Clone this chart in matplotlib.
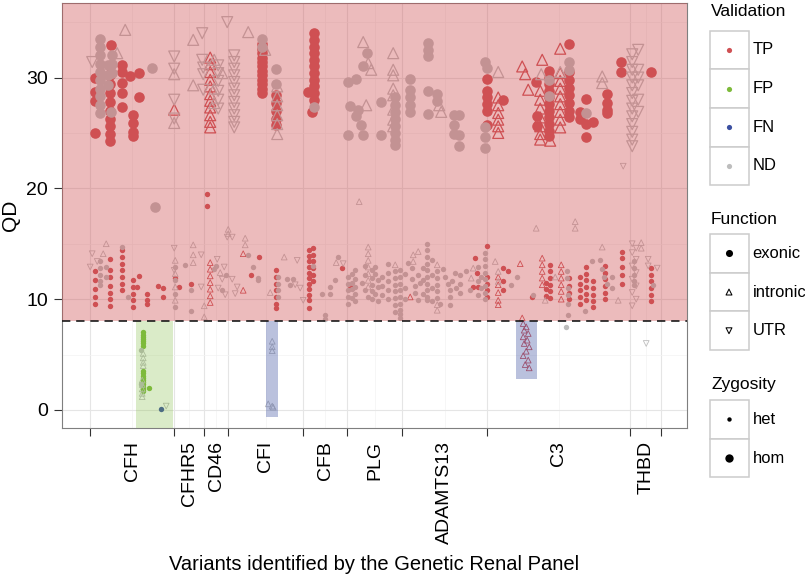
import numpy as np
import matplotlib
matplotlib.use("Agg")
import matplotlib.pyplot as plt
from matplotlib.patches import Rectangle

plt.rcParams["font.family"] = ["Liberation Sans", "DejaVu Sans"]

# genes along the panel (variant index of the block boundaries)
gene_names = ["CFH", "CFHR5", "CD46", "CFI", "CFB", "PLG", "ADAMTS13", "C3", "THBD"]
gene_bounds = [0, 84, 114, 138, 213, 257, 312, 397, 540, 571]
qd_threshold = 8

# FP / FN call regions : (validation, x from, x to, lowest QD)
call_regions = [("FP", 46, 82.3, -5), ("FN", 175.7, 187.3, -0.6), ("FN", 425.7, 446.7, 2.8)]

# variants, grouped as (variant index, [QD values])
tp_exonic_hom = [
    (5, [30.0, 28.7, 27.9, 25.0]), (21, [32.9]),
    (20, [31.0, 30.2, 29.4, 28.6, 27.8, 27.0, 26.3, 25.6, 24.9, 24.3]),
    (32, [31.1, 30.5, 29.5, 28.6, 27.3]), (40, [30.1]), (49, [30.4, 28.2]),
    (43, [26.6, 25.9, 25.1, 24.7]),
    (172, [33.0, 32.6, 32.2, 31.8, 31.4, 31.0, 30.6, 30.2, 29.8, 29.4, 29.0, 28.6]),
    (186, [28.4, 27.7, 27.0, 26.3, 25.7]),
    (224, [34.0, 33.4, 32.8, 32.2, 31.6, 31.0, 30.4, 29.8, 29.2, 28.6, 28.0]),
    (218, [28.7]), (222, [26.9]),
    (397, [29.9, 28.8, 28.2, 27.6, 27.0, 25.7]), (413, [28.0]), (446, [29.6]),
    (459, [30.6, 30.0, 29.4, 28.8, 28.2, 27.6, 27.0, 26.4, 25.8, 25.2, 24.7]),
    (447, [26.5, 25.6]),
    (479, [33.0, 30.5, 29.8, 29.1, 28.4, 27.7, 27.0, 26.4]),
    (490, [26.9, 26.3]), (496, [28.1, 25.8, 24.6]), (503, [26.0]),
    (517, [28.5, 27.7, 27.1, 26.8]), (531, [31.4, 30.5]), (561, [30.5]),
]
tp_exonic_het = [
    (5, [12.5, 11.7, 10.9, 10.2, 9.6]),
    (20, [13.6, 12.6, 12.0, 11.2, 10.6, 10.0, 9.4]),
    (32, [14.4, 13.8, 13.2, 12.6, 12.0, 11.4, 10.8]),
    (43, [11.7, 11.1, 10.5, 9.9, 9.3]), (49, [12.1]), (47, [11.1]),
    (57, [10.5, 9.9, 9.6]), (68, [11.2]), (73, [11.0, 10.2]),
    (85, [11.9]), (89, [11.1]), (101, [11.4]), (117, [19.5, 18.4]),
    (169, [13.8]), (161, [12.2]),
    (186, [12.6, 12.0, 11.4, 10.8, 10.2, 9.6, 9.2]),
    (219, [14.4, 13.9, 13.4, 12.9, 12.4, 11.9, 11.4, 10.9, 10.4, 9.9, 9.2]),
    (223, [14.6, 14.0, 13.4, 12.8, 12.2, 11.6]), (252, [12.8]), (260, [11.2]),
    (385, [13.7]), (387, [12.4]), (383, [11.1]), (388, [11.1]),
    (397, [14.8, 12.0, 11.4, 10.8, 10.2]),
    (413, [12.8, 11.6, 10.8]), (418, [12.5]), (442, [10.2]),
    (456, [11.5, 10.9, 10.3]), (460, [13.1, 12.5, 11.9, 11.3, 10.7, 10.1]),
    (479, [11.9, 11.2, 10.6, 10.0]), (490, [12.0, 11.4, 10.8, 10.2, 9.6]),
    (496, [12.9, 12.3, 11.7, 11.1, 10.5, 9.9]), (503, [11.6, 11.0, 10.4, 9.8, 9.3]),
    (515, [13.0, 12.4, 11.8, 11.2, 10.6, 10.0]), (532, [14.3, 13.7, 12.9, 12.2, 11.4]),
    (561, [12.8, 12.2, 11.6, 11.0, 10.4, 9.8]),
]
tp_intronic_hom = [
    (84, [27.1]),
    (120, [31.8, 31.2, 30.5, 29.8, 29.2, 28.5, 27.9, 27.3, 26.6, 26.0, 25.5]),
    (408, [28.2, 27.5, 26.8, 26.2, 25.6, 25.0]),
    (432, [31.0]), (435, [30.3]), (438, [28.9]), (452, [31.6]),
    (450, [28.8, 28.0, 27.2, 26.4, 25.6, 24.9, 24.4]), (460, [24.3]),
    (470, [32.6, 30.4, 29.7, 29.0, 28.3, 27.6, 26.9, 26.2, 25.5]),
]
tp_intronic_het = [
    (120, [13.3, 12.7, 12.1, 11.5, 10.9, 10.3, 9.7]), (153, [14.1, 10.8]), (320, [10.2]),
    (408, [12.0, 11.3, 10.6, 9.9, 9.5]), (430, [13.2]),
    (452, [13.7, 13.1, 12.5, 11.9, 11.3]), (471, [13.1, 12.5, 11.9, 11.3, 10.7, 10.0]),
    (432, [8.3]), (433, [7.8, 6.6, 4.9]), (436, [7.5, 5.3]), (434, [7.2, 6.0]),
    (438, [6.9, 4.5]), (437, [6.3]), (439, [5.7, 3.8]), (435, [4.1]),
]
fp_exonic_het = [
    (53, [7.0, 6.8, 6.6, 6.4, 6.2, 6.0, 5.8, 3.5, 3.3, 3.1, 2.9, 2.7, 2.5, 2.3, 2.1, 1.9, 1.7]),
    (59, [2.0]),
]
fn_exonic_het = [(71, [0.1])]
nd_exonic_hom = [
    (10, [33.5, 32.8, 32.0, 31.2, 30.5, 29.8, 29.0, 28.3, 27.5, 26.8]),
    (18, [31.1, 30.2, 29.3]), (22, [32.0, 31.2, 30.4]), (21, [26.9]),
    (62, [30.9]), (65, [18.3]),
    (172, [33.5, 32.8]), (186, [30.8, 29.4]), (224, [27.3]),
    (258, [29.6, 24.8]), (260, [27.4]), (266, [29.9, 26.5]), (268, [27.1]), (271, [25.7]),
    (273, [31.0, 24.8]), (277, [32.2]), (291, [27.8, 24.8]),
    (305, [28.2, 27.5, 26.9, 26.3, 25.6, 25.0, 24.4, 23.9]),
    (320, [29.9, 28.9, 28.2, 27.5, 26.9]), (338, [33.1, 32.5, 31.9, 28.8, 26.7]),
    (347, [28.5, 27.9]), (364, [26.6, 25.7, 24.9]), (369, [26.6, 24.8, 23.8]),
    (395, [31.4, 25.5, 24.6, 23.6]), (397, [30.9]),
    (459, [29.8, 28.3]), (479, [31.4, 30.7]), (496, [26.8]),
]
nd_exonic_het = [
    (10, [13.4, 12.8, 12.2, 11.6, 11.3]), (16, [12.9, 12.0]), (32, [14.7]), (38, [10.2]),
    (85, [12.9, 11.7, 10.5, 9.3]), (95, [13.1]), (101, [10.8, 8.9]),
    (124, [12.7]), (126, [13.0]), (136, [12.2]), (132, [10.8]),
    (158, [14.0]), (163, [12.9]), (168, [11.9, 11.7]),
    (188, [12.0, 11.4, 10.8, 10.2]), (197, [11.8]), (200, [11.3]), (203, [11.8]),
    (223, [13.0]), (232, [10.5]), (240, [11.1, 10.5]), (245, [11.7]), (248, [13.8]), (235, [8.6, 8.2]),
    (258, [12.0, 11.4, 10.8, 10.2, 9.6]), (262, [12.3, 11.5, 10.9, 10.1]),
    (265, [12.6, 11.8, 11.1, 10.5, 9.8]), (272, [11.5]), (275, [13.0, 12.2, 10.8]), (278, [10.2]),
    (282, [12.6, 11.9, 11.3, 10.7, 10.0]), (285, [12.9, 12.3, 10.5]), (288, [11.7, 11.1, 9.8]),
    (292, [12.0, 11.2, 10.4]), (298, [13.2, 12.4, 11.6, 10.8, 10.0]),
    (305, [12.5, 11.9, 11.3, 10.7, 10.1, 9.5, 8.8]),
    (310, [12.6, 12.0, 11.4, 10.8, 10.2, 9.6, 9.0, 8.7, 8.3]),
    (315, [12.3, 11.0, 10.0]), (318, [13.3]), (322, [12.8, 11.8]), (325, [11.2, 10.6]),
    (328, [12.2, 9.9]), (330, [11.5]), (333, [12.8, 11.7, 10.5]),
    (337, [15.0, 14.4, 13.8, 13.2, 12.6, 12.0, 11.4, 10.8, 10.2, 9.9]),
    (342, [13.5, 12.2, 11.0, 9.8]), (347, [12.5, 11.9, 11.3, 10.7, 10.1]),
    (350, [9.6]), (353, [12.7]), (355, [12.0]), (358, [11.4]), (360, [10.8, 10.2, 9.5]),
    (362, [11.6]), (365, [12.4]), (366, [11.0]), (370, [12.2, 11.4, 10.6]),
    (376, [12.5]), (380, [10.8]), (388, [12.9, 11.6, 10.4]), (391, [12.0, 11.0]),
    (395, [14.2, 13.6, 13.0, 12.4, 11.8, 11.2, 10.6, 10.0]),
    (421, [11.3]), (427, [12.0]), (443, [10.4]),
    (477, [12.5, 11.9]), (478, [11.0, 10.4, 9.6, 8.6]), (476, [7.5]),
    (495, [8.9]), (502, [13.4]), (510, [13.5]), (512, [12.7]), (514, [12.0]), (517, [11.4]),
    (522, [12.0, 11.0]), (544, [13.4, 12.8, 12.2, 11.6, 11.3]), (563, [11.3]),
    (51, [5.4, 2.3]),
]
nd_intronic_hom = [
    (35, [34.3]), (27, [32.2]), (84, [30.3, 25.9]), (103, [33.4, 29.3]),
    (124, [31.6, 29.0, 27.7]), (132, [30.4]), (158, [34.1]), (175, [32.5]),
    (187, [29.2, 28.3, 27.5, 26.6, 25.8, 24.9]),
    (273, [33.2]), (278, [31.3]), (281, [30.7]), (276, [27.5]),
    (303, [32.2, 30.7, 30.2, 29.0, 28.4, 27.1, 26.2, 25.6]),
    (349, [27.5]), (351, [26.9]), (408, [30.5]), (451, [30.3]), (470, [30.5]), (512, [30.1, 29.5]),
]
nd_intronic_het = [
    (13, [14.1]), (16, [15.0]),
    (85, [13.5, 12.3, 11.1, 9.9]), (103, [14.9, 14.0, 13.3]), (114, [9.4, 8.4]),
    (130, [12.4]), (138, [16.3, 15.9]), (155, [15.5, 14.9]),
    (180, [10.6]), (194, [13.8]), (246, [13.3]), (269, [18.8]),
    (278, [14.7, 14.1, 13.5, 12.9, 12.3, 11.7, 11.1]), (305, [13.1]),
    (323, [14.0, 13.4]), (328, [14.3]), (347, [13.1, 9.5, 9.0]), (381, [11.9]), (383, [12.8]),
    (405, [13.4]), (408, [12.5, 11.6]), (446, [16.4]), (455, [9.9]), (465, [12.0]),
    (485, [17.0, 16.4]), (512, [14.7]), (528, [9.9]), (551, [15.1, 14.6]),
    (182, [6.2, 5.7, 5.35, 0.35]), (178, [0.55]), (183, [0.25]),
    (53, [5.1, 4.7, 4.3, 4.0]), (52, [2.7, 2.3, 1.9, 1.5, 1.2]),
]
nd_utr_hom = [
    (2, [31.4]), (84, [31.9, 30.8, 28.0, 26.3]),
    (112, [34.0, 31.6]), (113, [30.9, 30.3, 28.9]),
    (128, [31.1, 30.4, 29.7, 28.8, 28.0, 27.2]), (137, [35.0]),
    (144, [32.0, 31.4, 30.8, 30.2, 29.6, 29.0, 28.4, 27.8, 27.2, 26.6, 26.0, 25.5]),
    (542, [32.1, 31.4, 30.7, 30.0, 29.3, 28.6, 27.9, 27.2, 26.5, 25.8, 25.1, 24.4, 23.8]),
    (548, [32.5, 30.7, 30.0, 29.3, 28.0, 26.9]),
]
nd_utr_het = [
    (2, [14.1]), (0, [12.9]), (7, [13.4]), (76, [0.35]),
    (84, [14.6, 12.6]), (111, [14.0, 11.1]),
    (127, [13.6]), (132, [11.8]), (134, [12.9]), (128, [11.0]), (135, [10.4]),
    (137, [15.6]), (142, [15.6, 11.8]), (147, [11.1]), (145, [10.5]),
    (207, [13.5]), (205, [11.3]), (210, [11.0]), (213, [9.9]), (253, [13.2]),
    (533, [22.0]), (542, [15.0, 14.2, 13.0, 11.8, 10.6, 9.4]),
    (546, [14.6, 13.6, 12.4, 11.2, 10.0]), (558, [13.6, 13.0]), (567, [12.8]), (556, [6.0]),
]

colors = {"TP": "#CF5053", "FP": "#7DBA3A", "FN": "#3B4FA0", "ND": "#BDBDBD"}
markers = {"exonic": "o", "intronic": "^", "UTR": "v"}
sizes = {("exonic", "hom"): 58, ("exonic", "het"): 15,
         ("intronic", "hom"): 62, ("intronic", "het"): 17,
         ("UTR", "hom"): 62, ("UTR", "het"): 17}
region_alpha = {"TP": 0.39, "FP": 0.28, "FN": 0.35}


def expand(groups):
    xs, ys = [], []
    for x, qds in groups:
        xs += [x] * len(qds)
        ys += qds
    return np.array(xs, float), np.array(ys, float)


W, H = 805, 575
fig = plt.figure(figsize=(W / 100, H / 100), dpi=100)
ax = fig.add_axes([62 / W, 1 - 427.7 / H, 625 / W, 424.4 / H])

layers = [
    (tp_exonic_hom, "TP", "exonic", "hom"), (tp_exonic_het, "TP", "exonic", "het"),
    (tp_intronic_hom, "TP", "intronic", "hom"), (tp_intronic_het, "TP", "intronic", "het"),
    (fp_exonic_het, "FP", "exonic", "het"), (fn_exonic_het, "FN", "exonic", "het"),
    (nd_exonic_hom, "ND", "exonic", "hom"), (nd_exonic_het, "ND", "exonic", "het"),
    (nd_intronic_hom, "ND", "intronic", "hom"), (nd_intronic_het, "ND", "intronic", "het"),
    (nd_utr_hom, "ND", "UTR", "hom"), (nd_utr_het, "ND", "UTR", "het"),
]
for groups, val, func, zyg in layers:
    x, y = expand(groups)
    s = sizes[(func, zyg)]
    if func == "exonic":
        ax.scatter(x, y, s=s, c=colors[val], marker="o", linewidths=0, zorder=2)
    else:
        ax.scatter(x, y, s=s, marker=markers[func], facecolors="none",
                   edgecolors=colors[val], linewidths=0.9 if zyg == "hom" else 0.6, zorder=2)

# shaded areas drawn over the points
ax.axhspan(qd_threshold, 60, color=colors["TP"], alpha=region_alpha["TP"], lw=0, zorder=3)
for val, x0, x1, y0 in call_regions:
    ax.add_patch(Rectangle((x0, y0), x1 - x0, qd_threshold - y0, fc=colors[val],
                           alpha=region_alpha[val], lw=0, zorder=3))
ax.axhline(qd_threshold, color="#1a1a1a", lw=1.2, ls=(0, (5, 3.5)), zorder=4)

ax.set_xlim(-28.2, 596.8)
ax.set_ylim(-1.6, 36.7)
mids = [(a + b) / 2 for a, b in zip(gene_bounds[:-1], gene_bounds[1:])]
ax.set_xticks(gene_bounds)
ax.set_xticklabels([])
ax.set_xticks(mids, minor=True)
ax.set_yticks([0, 10, 20, 30])
ax.set_yticks([5, 15, 25, 35], minor=True)
ax.tick_params(which="minor", length=0)
ax.tick_params(which="major", length=5.5, width=0.8, color="#333333", labelsize=14, pad=4.7)
ax.grid(which="major", color="#E5E5E5", lw=0.8)
ax.grid(which="minor", color="#F3F3F3", lw=0.5)
ax.set_axisbelow(True)
for sp in ax.spines.values():
    sp.set_color("#7F7F7F")
    sp.set_linewidth(0.8)

for name, m in zip(gene_names, mids):
    ax.annotate(name, xy=(m, 0), xycoords=("data", "axes fraction"), xytext=(0, -9.6),
                textcoords="offset points", rotation=90, ha="center", va="top", fontsize=14)

fig.text(374.5 / W, 1 - 570 / H, "Variants identified by the Genetic Renal Panel",
         ha="center", va="baseline", fontsize=14.5)
fig.text(10.5 / W, 1 - 215.5 / H, "QD", rotation=90, ha="center", va="center", fontsize=15)

# legend, drawn in figure pixels
lg = fig.add_axes([0, 0, 1, 1], facecolor="none")
lg.set_xlim(0, W)
lg.set_ylim(H, 0)
lg.axis("off")
key_x0, key_w, key_h = 709.5, 39, 38.7


def legend_block(title, title_y, top, entries):
    lg.text(711, title_y, title, fontsize=12.5, ha="left", va="center")
    for i, (lab, kw) in enumerate(entries):
        y0 = top + i * key_h
        lg.add_patch(Rectangle((key_x0, y0), key_w, key_h, fc="white", ec="#CCCCCC", lw=1.1))
        lg.scatter([key_x0 + key_w / 2], [y0 + key_h / 2], **kw)
        lg.text(752.5, y0 + key_h / 2, lab, fontsize=11.9, ha="left", va="center")


legend_block("Validation", 12, 30.5,
             [(v, dict(s=14, c=colors[v], linewidths=0)) for v in ["TP", "FP", "FN", "ND"]])
legend_block("Function", 219, 234,
             [("exonic", dict(s=26, c="black", linewidths=0)),
              ("intronic", dict(s=18, marker="^", facecolors="none", edgecolors="black", linewidths=0.75)),
              ("UTR", dict(s=18, marker="v", facecolors="none", edgecolors="black", linewidths=0.75))])
legend_block("Zygosity", 385, 400,
             [("het", dict(s=10, c="black", linewidths=0)),
              ("hom", dict(s=36, c="black", linewidths=0))])

fig.savefig("out.png", dpi=100)
